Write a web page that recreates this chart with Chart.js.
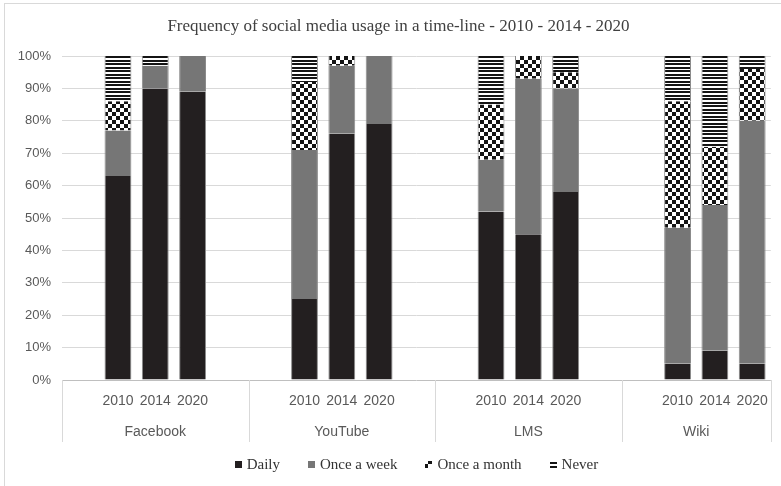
<!DOCTYPE html>
<html>
<head>
<meta charset="utf-8">
<script src="https://cdn.jsdelivr.net/npm/chart.js@4/dist/chart.umd.min.js"></script>
<style>
  html, body { margin: 0; padding: 0; background: #ffffff; }
  #c { display: block; }
</style>
</head>
<body>
<canvas id="c" width="781" height="486"></canvas>
<script>
// Platforms and survey years
const platforms = ['Facebook', 'YouTube', 'LMS', 'Wiki'];
const years = ['2010', '2014', '2020'];

// Share of respondents (%) per platform/year, in the order platform x year
const daily   = [63, 90, 89,  25, 76, 79,  52, 45, 58,   5,  9,  5];
const weekly  = [14,  7, 11,  46, 21, 21,  16, 48, 32,  42, 45, 75];
const monthly = [ 9,  0,  0,  21,  3,  0,  17,  7,  5,  39, 18, 16];
const never   = [14,  3,  0,   8,  0,  0,  15,  0,  5,  14, 28,  4];

const seriesNames = ['Daily', 'Once a week', 'Once a month', 'Never'];
const yTickValues = [0, 10, 20, 30, 40, 50, 60, 70, 80, 90, 100];
const chartTitle = 'Frequency of social media usage in a time-line - 2010 - 2014 - 2020';

// Category slots: each platform gets an empty slot before its three years,
// and an empty slot after them (except the last platform).
const slots = [];
const groupStarts = [];
platforms.forEach((p, pi) => {
  groupStarts.push(slots.length);
  slots.push(null);
  years.forEach((y, yi) => slots.push(pi * years.length + yi));
  if (pi < platforms.length - 1) slots.push(null);
});
const slotLabels = slots.map(s => (s === null ? '' : years[s % years.length]));
const toSlots = arr => slots.map(s => (s === null ? null : arr[s]));

const canvas = document.getElementById('c');
const ctx2d = canvas.getContext('2d');

function checkerPattern() {
  const c = document.createElement('canvas');
  c.width = 8; c.height = 8;
  const g = c.getContext('2d');
  g.fillStyle = '#ffffff'; g.fillRect(0, 0, 8, 8);
  g.fillStyle = '#141414';
  g.fillRect(0, 0, 4, 4);
  g.fillRect(4, 4, 4, 4);
  return ctx2d.createPattern(c, 'repeat');
}
function stripePattern() {
  const c = document.createElement('canvas');
  c.width = 8; c.height = 7;
  const g = c.getContext('2d');
  g.fillStyle = '#ffffff'; g.fillRect(0, 0, 8, 7);
  g.fillStyle = '#141414';
  g.fillRect(0, 0, 8, 2);
  g.fillRect(0, 4, 8, 2);
  return ctx2d.createPattern(c, 'repeat');
}

const fills = ['#231f20', '#767676', checkerPattern(), stripePattern()];
const values = [daily, weekly, monthly, never];

const barSide = { left: 1, right: 1, top: 0, bottom: 0 };
const datasets = seriesNames.map((name, i) => ({
  label: name,
  data: toSlots(values[i]),
  backgroundColor: fills[i],
  borderColor: '#8c8c8c',
  borderWidth: barSide,
  borderSkipped: false,
  barPercentage: 0.72,
  categoryPercentage: 1.0
}));

const AXIS_FONT = '"Liberation Sans", Arial, sans-serif';
const SERIF_FONT = '"Liberation Serif", "Times New Roman", serif';
const LABEL_GRAY = '#595959';

// Frame, title, group separators, platform names and the legend
const decorations = {
  id: 'decorations',
  beforeDraw(chart) {
    const c = chart.ctx;
    c.save();
    c.fillStyle = '#ffffff';
    c.fillRect(0, 0, chart.width, chart.height);
    c.strokeStyle = '#d9d9d9';
    c.lineWidth = 1;
    c.strokeRect(4.5, 3.5, chart.width + 10, chart.height + 10);
    c.restore();
  },
  afterDraw(chart) {
    const c = chart.ctx;
    const area = chart.chartArea;
    const slotW = (area.right - area.left) / slots.length;
    const bounds = groupStarts.map(k => area.left + k * slotW).concat([area.right]);

    c.save();
    // title
    c.fillStyle = '#404040';
    c.font = '17px ' + SERIF_FONT;
    c.textAlign = 'center';
    c.textBaseline = 'middle';
    c.fillText(chartTitle, chart.width / 2 + 8, 27);

    // separators between platform groups
    c.strokeStyle = '#d9d9d9';
    c.lineWidth = 1;
    bounds.forEach(bx => {
      const px = Math.round(bx) + 0.5;
      c.beginPath();
      c.moveTo(px, area.bottom);
      c.lineTo(px, area.bottom + 62);
      c.stroke();
    });
    // platform names
    c.fillStyle = LABEL_GRAY;
    c.font = '14px ' + AXIS_FONT;
    platforms.forEach((p, i) => {
      c.fillText(p, (bounds[i] + bounds[i + 1]) / 2, area.bottom + 52);
    });

    // legend, centred under the plot area
    c.font = '15px ' + SERIF_FONT;
    const box = 7, gapText = 5, gapItem = 28;
    const widths = chart.data.datasets.map(d => c.measureText(d.label).width);
    const total = widths.reduce((a, w) => a + box + gapText + w, 0) + gapItem * (widths.length - 1);
    let x = (area.left + area.right) / 2 - total / 2;
    const y = 464;
    c.textAlign = 'left';
    chart.data.datasets.forEach((d, i) => {
      c.fillStyle = d.backgroundColor;
      c.fillRect(Math.round(x), Math.round(y - box / 2), box, box);
      c.fillStyle = '#333333';
      c.fillText(d.label, x + box + gapText, y + 1);
      x += box + gapText + widths[i] + gapItem;
    });
    c.restore();
  }
};

new Chart(canvas, {
  type: 'bar',
  data: { labels: slotLabels, datasets },
  plugins: [decorations],
  options: {
    responsive: false,
    animation: false,
    devicePixelRatio: 1,
    layout: { padding: { left: 4, right: 9, top: 56, bottom: 0 } },
    plugins: {
      legend: { display: false },
      tooltip: { enabled: false },
      title: { display: false }
    },
    scales: {
      x: {
        stacked: true,
        grid: { display: false, drawTicks: false },
        border: { display: false },
        ticks: {
          autoSkip: false,
          maxRotation: 0,
          minRotation: 0,
          padding: 13,
          color: LABEL_GRAY,
          font: { family: AXIS_FONT, size: 14 }
        },
        afterFit(scale) { scale.height = 106; }
      },
      y: {
        stacked: true,
        min: 0,
        max: 100,
        afterBuildTicks(scale) { scale.ticks = yTickValues.map(v => ({ value: v })); },
        grid: {
          drawTicks: false,
          color: c => (c.tick && c.tick.value === 0 ? '#bfbfbf' : '#d9d9d9')
        },
        border: { display: false },
        ticks: {
          padding: 11,
          color: LABEL_GRAY,
          font: { family: AXIS_FONT, size: 13 },
          callback: v => v + '%'
        },
        afterFit(scale) { scale.width = 58; }
      }
    }
  }
});
</script>
</body>
</html>
